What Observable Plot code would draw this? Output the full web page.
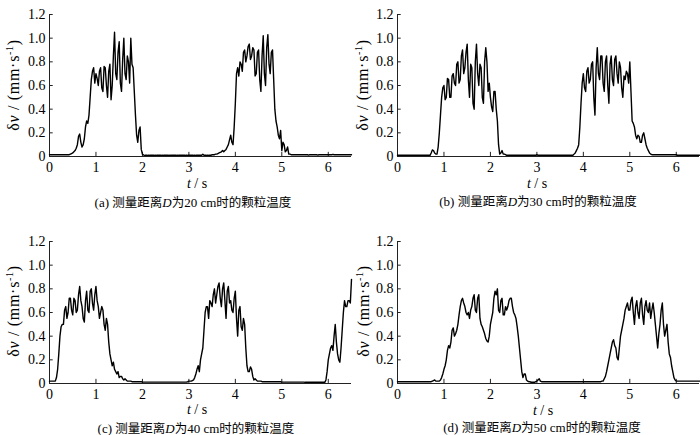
<!DOCTYPE html>
<html><head><meta charset="utf-8">
<script src="https://cdn.jsdelivr.net/npm/d3@7"></script>
<script src="https://cdn.jsdelivr.net/npm/@observablehq/plot@0.6"></script>
<style>
body{margin:0;background:#fff;}
#fig{position:relative;width:700px;height:435px;overflow:hidden;font-family:"Liberation Serif","Times New Roman","Noto Sans CJK SC",serif;color:#000;background:#fff;}
.panel{position:absolute;}
.panel svg{overflow:visible;}
.xl{position:absolute;font-size:14px;transform:translate(-50%,-50%);white-space:nowrap;line-height:1;}
.cap{position:absolute;font-size:13px;transform:translate(-50%,-50%);white-space:nowrap;line-height:1;}
.yl{position:absolute;font-size:16px;letter-spacing:0.7px;transform:translate(-50%,-50%) rotate(-90deg);white-space:nowrap;line-height:1;}
.yl sup{font-size:10px;vertical-align:6px;line-height:0;}
.cjk{font-family:"Noto Sans CJK SC",sans-serif;font-size:12.5px;}
</style></head><body><div id="fig"></div><script>
// time grid: 0 .. 6.5 s, step 0.025 s (20 samples per row = 0.5 s)
const T_STEP = 0.025;
const xTicks = [0, 1, 2, 3, 4, 5, 6];
const yTicks = [0, 0.2, 0.4, 0.6, 0.8, 1.0, 1.2];

const valuesA = [
  0.015,0.015,0.015,0.015,0.015,0.015,0.015,0.015,0.015,0.015,0.015,0.015,0.015,0.015,0.015,0.015,0.015,0.015,0.02,0.025,
  0.03,0.04,0.05,0.07,0.10,0.17,0.19,0.12,0.08,0.10,0.15,0.25,0.30,0.28,0.35,0.50,0.65,0.72,0.75,0.62,
  0.70,0.66,0.60,0.72,0.75,0.58,0.55,0.76,0.75,0.60,0.50,0.72,0.78,0.48,0.60,0.85,1.05,0.70,0.65,0.88,
  0.97,0.62,0.55,0.82,1.00,0.70,0.65,0.85,0.80,0.62,1.00,0.78,0.75,0.55,0.35,0.18,0.12,0.22,0.25,0.06,
  0.02,0.012,0.01,0.01,0.01,0.012,0.01,0.01,0.01,0.01,0.01,0.012,0.01,0.01,0.01,0.01,0.01,0.012,0.01,0.01,
  0.01,0.01,0.01,0.012,0.01,0.01,0.01,0.01,0.01,0.01,0.012,0.01,0.01,0.01,0.01,0.01,0.01,0.01,0.012,0.01,
  0.01,0.01,0.01,0.01,0.01,0.012,0.01,0.01,0.01,0.01,0.01,0.01,0.02,0.01,0.01,0.01,0.012,0.01,0.01,0.01,
  0.015,0.015,0.015,0.02,0.02,0.025,0.03,0.035,0.04,0.05,0.04,0.05,0.06,0.08,0.10,0.14,0.18,0.12,0.10,0.25,
  0.45,0.70,0.75,0.68,0.80,0.78,0.72,0.88,0.90,0.80,0.85,0.93,0.95,0.82,0.85,0.92,0.90,0.68,0.70,0.88,
  0.90,0.65,0.55,0.85,1.02,0.70,0.60,0.92,1.03,0.78,0.70,0.88,0.90,0.65,0.40,0.30,0.25,0.18,0.15,0.22,
  0.05,0.12,0.10,0.04,0.05,0.08,0.02,0.02,0.015,0.015,0.015,0.015,0.015,0.015,0.015,0.015,0.015,0.015,0.015,0.015,
  0.015,0.015,0.015,0.012,0.015,0.015,0.015,0.015,0.015,0.015,0.015,0.012,0.015,0.015,0.015,0.015,0.015,0.015,0.015,0.015,
  0.015,0.015,0.015,0.015,0.018,0.015,0.015,0.015,0.015,0.015,0.015,0.015,0.015,0.015,0.015,0.015,0.015,0.015,0.015,0.015,
  0.015
];
const valuesB = [
  0.01,0.01,0.01,0.01,0.01,0.01,0.01,0.01,0.01,0.01,0.01,0.01,0.01,0.01,0.01,0.01,0.01,0.01,0.01,0.01,
  0.01,0.01,0.01,0.01,0.01,0.01,0.01,0.01,0.01,0.03,0.055,0.05,0.03,0.02,0.02,0.08,0.20,0.35,0.50,0.58,
  0.60,0.48,0.50,0.66,0.65,0.50,0.50,0.68,0.70,0.62,0.60,0.78,0.80,0.62,0.65,0.85,0.90,0.70,0.75,0.88,
  0.95,0.65,0.50,0.78,0.75,0.45,0.40,0.80,0.95,0.70,0.60,0.78,0.75,0.50,0.45,0.80,0.92,0.80,0.55,0.62,
  0.50,0.42,0.38,0.55,0.55,0.40,0.30,0.10,0.02,0.03,0.05,0.02,0.02,0.015,0.01,0.01,0.01,0.01,0.01,0.01,
  0.01,0.01,0.01,0.01,0.01,0.01,0.01,0.01,0.01,0.01,0.01,0.01,0.01,0.01,0.01,0.01,0.01,0.01,0.01,0.01,
  0.015,0.01,0.01,0.01,0.01,0.01,0.01,0.01,0.01,0.01,0.01,0.01,0.01,0.01,0.01,0.01,0.01,0.01,0.01,0.01,
  0.01,0.01,0.01,0.01,0.01,0.01,0.01,0.01,0.01,0.01,0.01,0.01,0.02,0.03,0.05,0.07,0.10,0.25,0.45,0.62,
  0.70,0.58,0.55,0.72,0.75,0.62,0.65,0.78,0.80,0.50,0.35,0.75,0.92,0.70,0.65,0.85,0.85,0.62,0.55,0.80,
  0.85,0.60,0.45,0.78,0.85,0.65,0.60,0.82,0.85,0.70,0.62,0.80,0.75,0.58,0.50,0.68,0.65,0.72,0.70,0.62,
  0.80,0.55,0.30,0.28,0.25,0.18,0.15,0.18,0.17,0.12,0.12,0.18,0.20,0.15,0.10,0.07,0.05,0.03,0.02,0.015,
  0.015,0.015,0.015,0.015,0.015,0.015,0.015,0.015,0.015,0.015,0.015,0.015,0.015,0.015,0.015,0.015,0.015,0.015,0.015,0.015,
  0.015,0.01,0.01,0.01,0.01,0.01,0.01,0.01,0.01,0.01,0.01,0.01,0.01,0.01,0.01,0.01,0.01,0.01,0.01,0.01,
  0.01
];
const valuesC = [
  0.02,0.02,0.02,0.02,0.02,0.02,0.05,0.12,0.25,0.40,0.48,0.50,0.50,0.62,0.65,0.55,0.60,0.72,0.72,0.62,
  0.58,0.72,0.70,0.60,0.62,0.75,0.82,0.70,0.65,0.55,0.52,0.70,0.78,0.62,0.60,0.78,0.80,0.68,0.62,0.75,
  0.82,0.70,0.65,0.55,0.60,0.65,0.62,0.50,0.45,0.55,0.50,0.35,0.25,0.20,0.15,0.18,0.12,0.10,0.08,0.10,
  0.05,0.06,0.06,0.04,0.03,0.04,0.03,0.02,0.02,0.02,0.02,0.015,0.015,0.015,0.015,0.015,0.015,0.015,0.015,0.015,
  0.012,0.012,0.012,0.012,0.012,0.012,0.012,0.012,0.012,0.012,0.012,0.012,0.012,0.012,0.012,0.012,0.012,0.012,0.012,0.012,
  0.012,0.012,0.012,0.012,0.012,0.012,0.012,0.012,0.012,0.012,0.012,0.012,0.012,0.012,0.012,0.012,0.012,0.012,0.012,0.015,
  0.02,0.02,0.02,0.025,0.03,0.05,0.08,0.12,0.15,0.10,0.20,0.25,0.30,0.45,0.60,0.65,0.65,0.55,0.70,0.68,
  0.65,0.75,0.80,0.68,0.75,0.82,0.85,0.72,0.65,0.80,0.85,0.70,0.55,0.78,0.82,0.68,0.70,0.62,0.60,0.72,
  0.78,0.55,0.40,0.62,0.65,0.48,0.45,0.55,0.50,0.30,0.15,0.10,0.10,0.14,0.12,0.06,0.03,0.04,0.03,0.02,
  0.02,0.02,0.02,0.015,0.015,0.015,0.015,0.015,0.015,0.015,0.015,0.015,0.015,0.015,0.015,0.015,0.015,0.015,0.015,0.015,
  0.012,0.012,0.012,0.012,0.012,0.012,0.012,0.012,0.012,0.012,0.012,0.012,0.012,0.012,0.012,0.012,0.012,0.012,0.012,0.012,
  0.01,0.01,0.01,0.01,0.01,0.01,0.01,0.01,0.01,0.01,0.01,0.01,0.01,0.01,0.01,0.01,0.01,0.01,0.03,0.10,
  0.20,0.25,0.30,0.32,0.28,0.40,0.50,0.35,0.25,0.20,0.18,0.30,0.45,0.60,0.70,0.65,0.65,0.70,0.70,0.68,
  0.88
];
const valuesD = [
  0.015,0.015,0.015,0.015,0.015,0.015,0.015,0.015,0.015,0.015,0.015,0.015,0.015,0.015,0.015,0.015,0.015,0.015,0.015,0.015,
  0.015,0.015,0.015,0.015,0.015,0.015,0.015,0.015,0.015,0.015,0.02,0.025,0.03,0.02,0.02,0.02,0.02,0.03,0.05,0.08,
  0.12,0.15,0.20,0.28,0.32,0.30,0.35,0.45,0.47,0.40,0.42,0.45,0.50,0.58,0.65,0.70,0.72,0.68,0.65,0.60,
  0.58,0.60,0.55,0.62,0.65,0.72,0.75,0.62,0.60,0.72,0.75,0.55,0.50,0.48,0.45,0.42,0.38,0.36,0.35,0.40,
  0.50,0.55,0.60,0.72,0.78,0.75,0.80,0.62,0.60,0.70,0.72,0.58,0.58,0.65,0.62,0.65,0.70,0.72,0.72,0.65,
  0.60,0.58,0.55,0.48,0.40,0.30,0.20,0.10,0.05,0.08,0.08,0.03,0.02,0.015,0.015,0.01,0.01,0.01,0.01,0.015,
  0.02,0.03,0.04,0.02,0.015,0.015,0.015,0.015,0.015,0.015,0.015,0.015,0.015,0.015,0.015,0.015,0.015,0.015,0.015,0.015,
  0.015,0.015,0.015,0.015,0.015,0.015,0.015,0.015,0.015,0.015,0.015,0.015,0.015,0.015,0.015,0.015,0.015,0.015,0.015,0.015,
  0.015,0.015,0.015,0.015,0.015,0.015,0.015,0.015,0.015,0.015,0.015,0.015,0.015,0.015,0.015,0.015,0.02,0.02,0.04,0.06,
  0.10,0.15,0.20,0.25,0.30,0.35,0.37,0.32,0.30,0.22,0.20,0.30,0.40,0.45,0.50,0.55,0.62,0.65,0.68,0.62,
  0.62,0.70,0.73,0.60,0.50,0.65,0.70,0.60,0.55,0.68,0.72,0.58,0.50,0.65,0.70,0.62,0.60,0.68,0.55,0.62,
  0.68,0.60,0.50,0.40,0.30,0.42,0.50,0.62,0.68,0.50,0.40,0.45,0.50,0.35,0.25,0.22,0.15,0.10,0.05,0.03,
  0.02,0.02,0.02,0.02,0.02,0.02,0.02,0.02,0.02,0.02,0.02,0.02,0.02,0.02,0.02,0.02,0.02,0.02,0.02,0.02,
  0.02
];

const captions = ["(a)", "(b)", "(c)", "(d)"];
const distances = ["20", "30", "40", "50"];

const layout = [
  {vals: valuesA, left: 0,   top: 0,     ml: 49, w: 352, yl: [14, 85],  xl: [197, 184], cap: [193, 202]},
  {vals: valuesB, left: 350, top: 0,     ml: 47, w: 350, yl: [363, 85], xl: [537, 184], cap: [538, 201]},
  {vals: valuesC, left: 0,   top: 226.5, ml: 49, w: 352, yl: [14, 311], xl: [197, 410], cap: [196, 428]},
  {vals: valuesD, left: 350, top: 226.5, ml: 47, w: 350, yl: [364, 311],xl: [543, 411], cap: [542, 427]}
];

const fig = document.getElementById("fig");
const yFmt = d => d === 0 ? "0" : d.toFixed(1);
const xFmt = d => String(d);

layout.forEach((p, k) => {
  const data = p.vals.map((v, i) => ({t: Math.round(i * T_STEP * 1000) / 1000, v}));
  const chart = Plot.plot({
    width: p.w, height: 176,
    marginLeft: p.ml, marginRight: 1, marginTop: 14, marginBottom: 20,
    x: {domain: [0, 6.5]},
    y: {domain: [0, 1.2]},
    style: {fontFamily: "'Liberation Serif', 'Times New Roman', serif", color: "#000", background: "transparent"},
    marks: [
      Plot.axisX({ticks: xTicks, tickSize: 0, tickPadding: 6, tickFormat: xFmt, label: null, fontSize: 14}),
      Plot.axisY({ticks: yTicks, tickSize: 0, tickPadding: 4, tickFormat: yFmt, label: null, fontSize: 14}),
      Plot.ruleX(xTicks, {x: d => d, y1: 0, y2: 0.035, stroke: "#222", strokeWidth: 1}),
      Plot.ruleY(yTicks, {y: d => d, x1: 0, x2: 0.08, stroke: "#222", strokeWidth: 1}),
      Plot.ruleX([0], {stroke: "#222", strokeWidth: 1}),
      Plot.ruleY([0], {stroke: "#222", strokeWidth: 1}),
      Plot.line(data, {x: "t", y: "v", stroke: "#000", strokeWidth: 1.4})
    ]
  });
  const wrap = document.createElement("div");
  wrap.className = "panel";
  wrap.style.left = p.left + "px";
  wrap.style.top = p.top + "px";
  wrap.appendChild(chart);
  fig.appendChild(wrap);

  const yl = document.createElement("div");
  yl.className = "yl";
  yl.style.left = p.yl[0] + "px"; yl.style.top = p.yl[1] + "px";
  yl.innerHTML = "δ<i>v</i> / (mm·s<sup>-1</sup>)";
  fig.appendChild(yl);

  const xl = document.createElement("div");
  xl.className = "xl";
  xl.style.left = p.xl[0] + "px"; xl.style.top = p.xl[1] + "px";
  xl.innerHTML = "<i>t</i> / s";
  fig.appendChild(xl);

  const cap = document.createElement("div");
  cap.className = "cap";
  cap.style.left = p.cap[0] + "px"; cap.style.top = p.cap[1] + "px";
  cap.innerHTML = captions[k] + " <span class='cjk'>测量距离</span><i>D</i><span class='cjk'>为</span>" + distances[k] + " cm<span class='cjk'>时的颗粒温度</span>";
  fig.appendChild(cap);
});
</script></body></html>
